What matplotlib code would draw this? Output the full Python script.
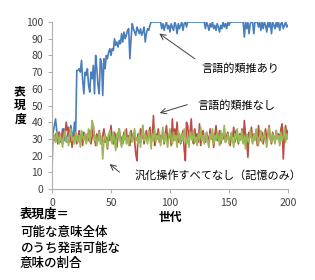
import numpy as np
from matplotlib import pyplot as plt

plt.rcParams['font.family'] = ['Noto Sans CJK JP', 'DejaVu Sans']

# generation 0..200
with_analogy = [
    31, 34, 38, 42, 35, 30, 34, 28, 31, 36,
    33, 29, 30, 32, 35, 30, 38, 33, 29, 40,
    31, 71, 71, 72, 70, 77, 65, 57, 70, 68,
    72, 62, 58, 70, 66, 74, 57, 80, 72, 62,
    57, 78, 75, 56, 78, 72, 80, 78, 82, 84,
    80, 84, 83, 90, 86, 88, 85, 89, 87, 93,
    88, 94, 90, 92, 95, 96, 78, 90, 99, 96,
    94, 92, 97, 95, 93, 96, 92, 94, 97, 88,
    93, 96, 95, 98, 100, 100, 100, 100, 100, 100,
    100, 100, 100, 96, 99, 95, 98, 100, 96, 98,
    94, 99, 97, 95, 100, 98, 93, 99, 96, 98,
    100, 95, 99, 100, 97, 100, 100, 100, 100, 100,
    100, 100, 100, 100, 100, 100, 100, 100, 100, 100,
    96, 100, 98, 95, 99, 97, 100, 96, 98, 95,
    99, 97, 94, 98, 96, 100, 97, 99, 96, 100,
    98, 100, 100, 100, 100, 100, 100, 100, 100, 100,
    100, 100, 100, 91, 100, 96, 100, 93, 99, 100,
    100, 93, 100, 100, 100, 97, 100, 95, 100, 96,
    100, 98, 94, 100, 97, 100, 93, 100, 98, 96,
    100, 97, 100, 95, 99, 100, 96, 98, 100, 97,
    98,
]

no_analogy = [
    30, 32, 29, 33, 31, 27, 34, 30, 28, 33,
    36, 31, 40, 35, 37, 28, 34, 25, 32, 30,
    33, 27, 31, 35, 29, 32, 26, 34, 30, 28,
    33, 29, 35, 27, 31, 38, 30, 26, 33, 29,
    35, 30, 27, 32, 36, 28, 31, 24, 33, 29,
    38, 30, 27, 34, 31, 25, 33, 36, 29, 31,
    27, 34, 30, 36, 28, 32, 26, 35, 30, 33,
    29, 21, 17, 33, 28, 36, 30, 38, 27, 32,
    35, 29, 33, 37, 28, 31, 44, 26, 33, 30,
    36, 28, 32, 30, 35, 27, 33, 38, 29, 31,
    34, 26, 42, 29, 36, 30, 40, 28, 33, 27,
    31, 35, 24, 17, 40, 38, 29, 34, 42, 30,
    27, 36, 31, 33, 28, 39, 26, 32, 35, 30,
    28, 34, 31, 27, 36, 30, 33, 25, 32, 38,
    29, 31, 35, 27, 33, 30, 36, 28, 32, 34,
    29, 26, 33, 31, 37, 28, 35, 30, 27, 33,
    30, 36, 28, 41, 32, 29, 19, 34, 31, 37,
    28, 33, 30, 35, 26, 38, 31, 29, 34, 27,
    32, 36, 29, 33, 38, 30, 27, 34, 31, 28,
    35, 30, 33, 27, 36, 39, 18, 32, 38, 30,
    35,
]

memory_only = [
    12, 30, 32, 28, 34, 31, 27, 33, 29, 25,
    32, 35, 28, 30, 26, 33, 36, 29, 31, 27,
    34, 30, 28, 32, 25, 35, 31, 29, 33, 27,
    30, 36, 28, 33, 41, 38, 29, 32, 26, 30,
    34, 27, 31, 18, 29, 33, 28, 25, 32, 35,
    30, 27, 34, 29, 23, 33, 31, 36, 28, 25,
    32, 29, 35, 27, 31, 26, 34, 30, 28, 33,
    36, 29, 31, 27, 34, 25, 32, 38, 29, 33,
    30, 27, 35, 31, 24, 33, 29, 36, 28, 32,
    30, 34, 26, 31, 37, 28, 33, 29, 25, 32,
    36, 30, 27, 34, 29, 32, 25, 35, 31, 28,
    33, 29, 36, 30, 27, 32, 25, 34, 31, 29,
    35, 28, 31, 26, 33, 30, 37, 29, 32, 27,
    31, 34, 28, 25, 33, 30, 36, 27, 32, 29,
    34, 31, 26, 35, 29, 32, 38, 28, 30, 33,
    27, 31, 34, 29, 25, 33, 30, 36, 28, 32,
    29, 35, 27, 31, 24, 33, 30, 28, 35, 31,
    27, 33, 29, 36, 30, 26, 32, 35, 28, 31,
    34, 29, 25, 32, 37, 30, 28, 33, 31, 27,
    35, 30, 32, 26, 34, 29, 31, 37, 28, 33,
    30,
]

gens = np.arange(len(with_analogy))

fig = plt.figure(figsize=(3.15, 2.8), dpi=100)
ax = fig.add_axes([52 / 315, 1 - 189 / 280, 236 / 315, 167 / 280])

ax.plot(gens, with_analogy, color='#4a7ebb', lw=1.2)
ax.plot(gens, no_analogy, color='#be4b48', lw=1.2)
ax.plot(gens, memory_only, color='#98b954', lw=1.2)

ax.set_xlim(0, 200)
ax.set_ylim(0, 100)
ax.set_xticks(range(0, 201, 50))
ax.set_yticks(range(0, 101, 10))
ax.tick_params(labelsize=7.5, colors='#404040', length=3, width=0.8)
ax.tick_params(axis='both', color='#b0b0b0')
for side in ['top', 'right']:
    ax.spines[side].set_visible(False)
for side in ['left', 'bottom']:
    ax.spines[side].set_color('#b0b0b0')
    ax.spines[side].set_linewidth(0.8)

ax.set_xlabel('世代', fontsize=8.5, fontweight='bold', labelpad=2)
ax.set_ylabel('表\n現\n度', fontsize=8.5, fontweight='bold', rotation=0,
              labelpad=4, va='center', linespacing=1.1)

arrow = dict(arrowstyle='->', color='#404040', lw=0.7)
ax.text(160, 72, '言語的類推あり', fontsize=8, ha='center', va='center')
ax.annotate('', xy=(89, 94), xytext=(123, 77), arrowprops=arrow)
ax.text(156, 50, '言語的類推なし', fontsize=8, ha='center', va='center')
ax.annotate('', xy=(89, 45), xytext=(117, 51), arrowprops=arrow)
ax.text(141, 8, '汎化操作すべてなし（記憶のみ）', fontsize=8,
        ha='center', va='center', clip_on=False)
ax.annotate('', xy=(47, 16), xytext=(59, 9), arrowprops=arrow)

fig.text(20 / 315, 1 - 214 / 280, '表現度＝', fontsize=9, fontweight='bold',
         va='center', ha='left')
fig.text(20 / 315, 1 - 248 / 280, '可能な意味全体\nのうち発話可能な\n意味の割合',
         fontsize=9, fontweight='medium', va='center', ha='left',
         linespacing=1.25)

fig.savefig('out.png', dpi=100)
